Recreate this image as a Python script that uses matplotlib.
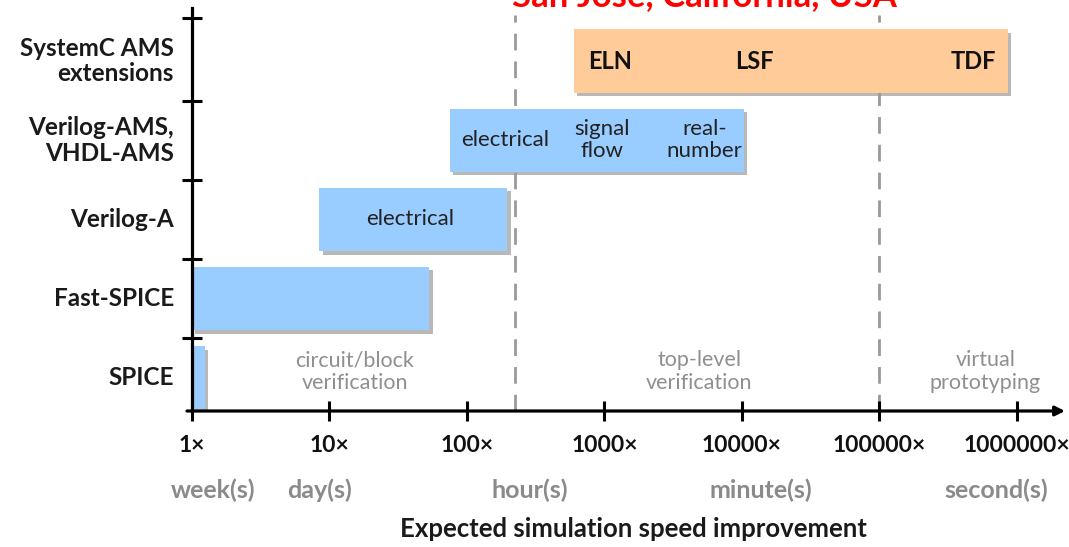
import matplotlib.pyplot as plt
import matplotlib.patheffects as pe
import numpy as np

plt.rcParams['font.family'] = ['Lato', 'DejaVu Sans']

# rows, bottom to top
languages = ['SPICE', 'Fast-SPICE', 'Verilog-A', 'Verilog-AMS,\nVHDL-AMS', 'SystemC AMS\nextensions']
bar_start = [1, 1, 8.4, 75, 600]
bar_end = [1.24, 53, 197, 10300, 860000]
bar_colors = ['#99CCFF', '#99CCFF', '#99CCFF', '#99CCFF', '#FFCC99']

# labels inside bars: (row, x position, text, bold)
inner_rows = [2, 3, 3, 3, 4, 4, 4]
inner_x = [38.5, 189, 955, 5370, 1100, 12300, 480000]
inner_text = ['electrical', 'electrical', 'signal\nflow', 'real-\nnumber', 'ELN', 'LSF', 'TDF']
inner_bold = [False, False, False, False, True, True, True]

speedups = [1, 10, 100, 1000, 10000, 100000, 1000000]
speed_labels = ['1\u00d7', '10\u00d7', '100\u00d7', '1000\u00d7', '10000\u00d7', '100000\u00d7', '1000000\u00d7']

time_labels = ['week(s)', 'day(s)', 'hour(s)', 'minute(s)', 'second(s)']
time_x = [1.42, 8.4, 288, 13800, 708000]

region_bounds = [224, 100000]
region_labels = ['circuit/block\nverification', 'top-level\nverification', 'virtual\nprototyping']
region_x = [15.3, 4900, 590000]

fig = plt.figure(figsize=(10.69, 5.47), dpi=100)
ax = fig.add_axes([192 / 1069, 136 / 547, 873 / 1069, 403 / 547])
ax.set_xscale('log')
ax.set_xlim(1, 10 ** 6.35)
ax.set_ylim(-0.42, 4.67)
for s in ax.spines.values():
    s.set_visible(False)

# region separators
for b in region_bounds:
    ax.axvline(b, ymin=0, ymax=0.983, color='#999999', lw=2, dashes=(6, 4), zorder=1)

# bars
y = np.arange(len(languages))
widths = np.array(bar_end) - np.array(bar_start)
ax.barh(y, widths, left=bar_start, height=0.8, color=bar_colors, zorder=2,
        path_effects=[pe.SimplePatchShadow(offset=(2.5, -2.5), shadow_rgbFace='#9a9a9a', alpha=0.7),
                      pe.Normal()])

for r, xv, t, b in zip(inner_rows, inner_x, inner_text, inner_bold):
    ax.text(xv, r, t, ha='center', va='center', fontsize=17 if b else 16,
            fontweight='bold' if b else 'normal', color='#111111' if b else '#222222',
            linespacing=1.1, zorder=3)

for xv, t in zip(region_x, region_labels):
    ax.text(xv, 0.08, t, ha='center', va='center', fontsize=15.5, color='#8f8f8f',
            linespacing=1.15, zorder=3)

# axes lines
ax.axvline(1, ymin=0, ymax=1, color='black', lw=2.3, zorder=4, clip_on=False)
ax.annotate('', xy=(1.0, 0), xycoords='axes fraction', xytext=(-5 / 873, 0),
            arrowprops=dict(arrowstyle='-|>', lw=2.3, color='black', mutation_scale=14,
                            shrinkA=0, shrinkB=0))

ax.set_xticks(speedups)
ax.set_xticklabels(speed_labels, fontsize=16.5, fontweight='bold', color='#111111')
ax.xaxis.set_minor_locator(plt.NullLocator())
ax.tick_params(axis='x', direction='inout', length=15, width=2.2, pad=10)
ax.set_yticks([0.5, 1.5, 2.5, 3.5, 4.55])
ax.set_yticklabels([])
ax.tick_params(axis='y', direction='inout', length=15, width=2.2)

ytr = ax.get_yaxis_transform()
for i, lab in enumerate(languages):
    ax.text(-18 / 873, i, lab, transform=ytr, ha='right', va='center', fontsize=17.5,
            fontweight='bold', color='#1a1a1a', linespacing=1.15)

xtr = ax.get_xaxis_transform()
for xv, t in zip(time_x, time_labels):
    ax.text(xv, -0.196, t, transform=xtr, ha='center', va='center', fontsize=18,
            fontweight='bold', color='#8a8a8a')

fig.text(633 / 1069, 1 - 529 / 547, 'Expected simulation speed improvement', ha='center',
         va='center', fontsize=18.5, fontweight='bold', color='#1a1a1a')

fig.text(512 / 1069, 1 - 6 / 547, 'San Jose, California, USA', ha='left', va='baseline',
         fontsize=25, fontweight='bold', color='red')

fig.savefig('out.png', dpi=100)
